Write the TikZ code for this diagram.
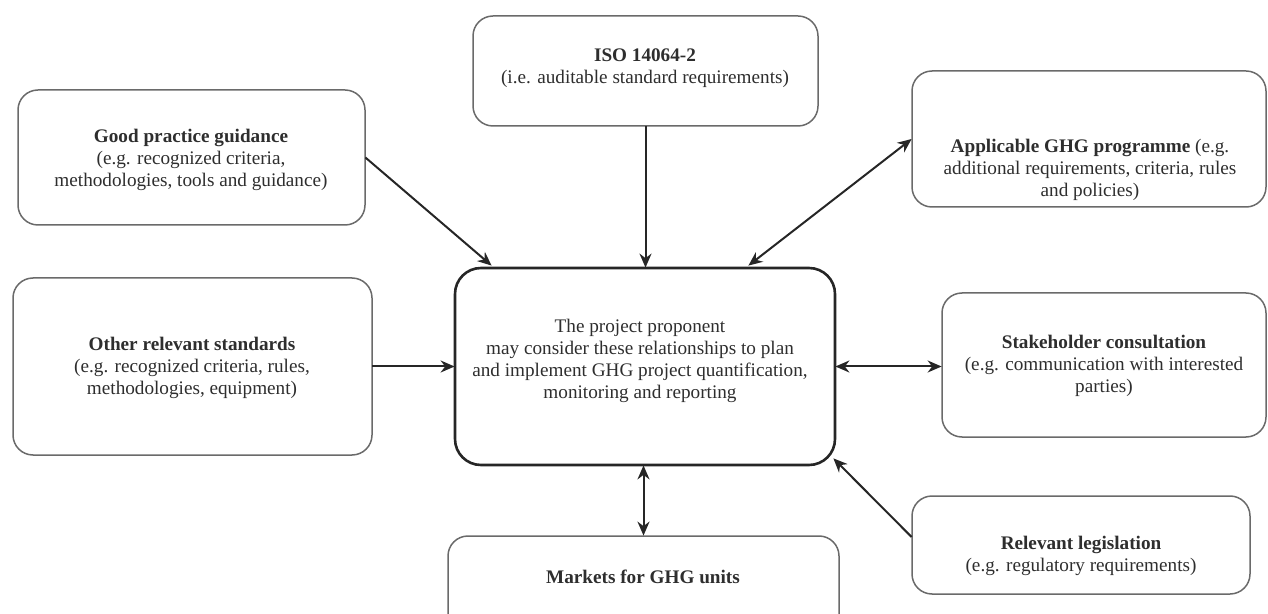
\documentclass[tikz,border=0pt]{standalone}
\usepackage{fontspec}
\setmainfont{Liberation Serif}
\usetikzlibrary{calc,arrows.meta}
\definecolor{txt}{HTML}{2E2E2E}
\definecolor{bord}{HTML}{6A6A6A}
\tikzset{
  box/.style={draw=bord, line width=0.75pt, rounded corners=10pt, fill=white},
  mainbox/.style={draw=black!85, line width=1.3pt, rounded corners=13pt},
  lbl/.style={align=center, text=txt, font=\fontsize{9.6}{11}\selectfont, inner sep=0pt},
  conn/.style={draw=black!85, line width=1pt, -{Stealth[length=7pt,width=6pt]}},
  bconn/.style={draw=black!85, line width=1pt, {Stealth[length=7pt,width=6pt]}-{Stealth[length=7pt,width=6pt]}}
}
\begin{document}
\begin{tikzpicture}[x=0.5pt,y=-0.5pt]
\useasboundingbox (0,0) rectangle (1268,614);
% boxes (pixel coordinates)
\path[box] (18,90) rectangle (365,225);
\node[minimum width=173.5pt, minimum height=67.5pt, inner sep=0pt] (gp) at (191.5,157.5) {};
\path[box] (473,16) rectangle (818,126);
\node[minimum width=172.5pt, minimum height=55pt, inner sep=0pt] (iso) at (645.5,71) {};
\path[box] (912,71) rectangle (1266,207);
\node[minimum width=177pt, minimum height=68pt, inner sep=0pt] (ap) at (1089,139) {};
\path[box] (13,278) rectangle (372,455);
\node[minimum width=179.5pt, minimum height=88.5pt, inner sep=0pt] (ot) at (192.5,366.5) {};
\path[mainbox] (455,268) rectangle (835,465);
\node[minimum width=190pt, minimum height=98.5pt, inner sep=0pt] (c) at (645,366.5) {};
\path[box] (942,293) rectangle (1266,437);
\node[minimum width=162pt, minimum height=72pt, inner sep=0pt] (st) at (1104,365) {};
\path[box] (912,496) rectangle (1250,594);
\node[minimum width=169pt, minimum height=49pt, inner sep=0pt] (leg) at (1081,545) {};
\path[box] (448,536) rectangle (839,640);
\node[minimum width=195.5pt, minimum height=52pt, inner sep=0pt] (mk) at (643.5,588) {};
% texts
\node[lbl] (tgp) at (191,160) {\textbf{Good practice guidance}\\(e.g. recognized criteria,\\methodologies, tools and guidance)};
\node[lbl] (tiso) at (645,68) {\textbf{ISO 14064-2}\\(i.e. auditable standard requirements)};
\node[lbl] (tap) at (1090,170) {\textbf{Applicable GHG programme} (e.g.\\additional requirements, criteria, rules\\and policies)};
\node[lbl] (tot) at (192,368) {\textbf{Other relevant standards}\\(e.g. recognized criteria, rules,\\methodologies, equipment)};
\node[lbl] (tc) at (640,361) {The project proponent\\may consider these relationships to plan\\and implement GHG project quantification,\\monitoring and reporting};
\node[lbl] (tst) at (1104,366) {\textbf{Stakeholder consultation}\\(e.g. communication with interested\\parties)};
\node[lbl] (tleg) at (1081,556) {\textbf{Relevant legislation}\\(e.g. regulatory requirements)};
\node[lbl] (tmk) at (643,577) {\textbf{Markets for GHG units}};
% connectors
\draw[conn] (gp.east) -- ($(c.north west)+(37,-2)$);
\draw[conn] (iso.south) -- (iso.south |- c.north);
\draw[bconn] (ap.west) -- ($(c.north east)+(-87,-2)$);
\draw[conn] (ot.east) -- (ot.east -| c.west);
\draw[bconn] (c.east) -- (c.east -| st.west);
\draw[conn] ($(leg.west)+(0,-8)$) -- ($(c.south east)+(-2,-7)$);
\draw[bconn] (mk.north) -- (mk.north |- c.south);
\end{tikzpicture}
\end{document}
